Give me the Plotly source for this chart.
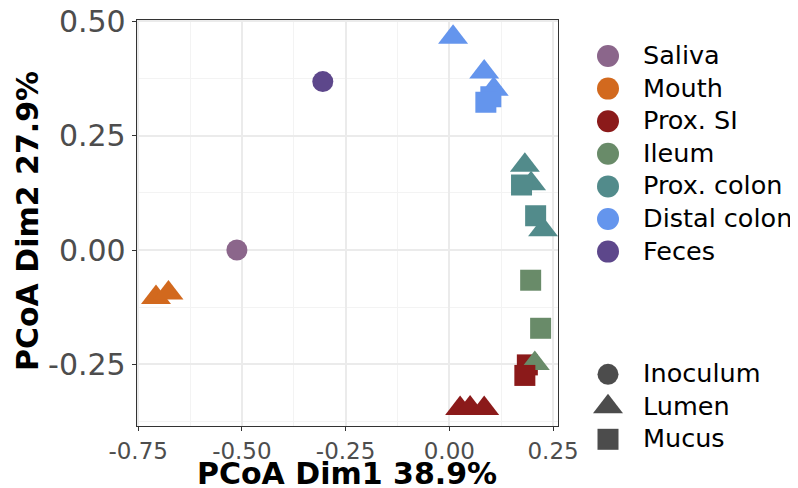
import plotly.graph_objects as go

# ---- categories / styles ----
site_levels = ["Saliva", "Mouth", "Prox. SI", "Ileum", "Prox. colon", "Distal colon", "Feces"]
site_colors = ["#8B668B", "#D2691E", "#8B1A1A", "#698B69", "#528B8B", "#6495ED", "#5D478B"]
type_levels = ["Inoculum", "Lumen", "Mucus"]
type_symbols = ["circle", "triangle-up", "square"]
type_sizes = [21, 26, 21]

# ---- data ----
sample_site = ["Saliva", "Feces", "Mouth", "Mouth",
               "Distal colon", "Distal colon", "Distal colon", "Distal colon", "Distal colon",
               "Prox. colon", "Prox. colon", "Prox. colon", "Prox. colon", "Prox. colon",
               "Ileum", "Ileum", "Prox. SI", "Ileum", "Prox. SI",
               "Prox. SI", "Prox. SI", "Prox. SI"]
sample_type = ["Inoculum", "Inoculum", "Lumen", "Lumen",
               "Lumen", "Lumen", "Lumen", "Mucus", "Mucus",
               "Lumen", "Lumen", "Lumen", "Mucus", "Mucus",
               "Mucus", "Mucus", "Mucus", "Lumen", "Mucus",
               "Lumen", "Lumen", "Lumen"]
dim1 = [-0.512, -0.305, -0.707, -0.677,
        0.009, 0.084, 0.107, 0.100, 0.088,
        0.182, 0.197, 0.226, 0.174, 0.208,
        0.196, 0.220, 0.188, 0.206, 0.182,
        0.026, 0.050, 0.084]
dim2 = [0.000, 0.368, -0.104, -0.094,
        0.465, 0.389, 0.351, 0.335, 0.323,
        0.185, 0.145, 0.044, 0.142, 0.075,
        -0.066, -0.171, -0.251, -0.248, -0.274,
        -0.346, -0.345, -0.346]

x_ticks = [-0.75, -0.50, -0.25, 0.00, 0.25]
y_ticks = [-0.25, 0.00, 0.25, 0.50]
x_title = "PCoA Dim1 38.9%"
y_title = "PCoA Dim2 27.9%"

col_map = dict(zip(site_levels, site_colors))
sym_map = dict(zip(type_levels, type_symbols))
size_map = dict(zip(type_levels, type_sizes))

# page body has an 8px margin: figure is drawn 8px in from top/left
OFF = 8
W, H = 798 - OFF, 488 - OFF
FONT = "DejaVu Sans"


def px(v):
    return v - OFF


px_left, px_right, px_top, px_bottom = px(136.7), px(558.0), px(20.0), px(426.0)

fig = go.Figure()
fig.add_trace(go.Scatter(
    x=dim1, y=dim2, mode="markers", showlegend=False, hoverinfo="skip",
    marker=dict(color=[col_map[s] for s in sample_site],
                symbol=[sym_map[t] for t in sample_type],
                size=[size_map[t] for t in sample_type],
                line=dict(width=0), opacity=1),
    xaxis="x", yaxis="y"))

# ---- custom legend (in a hidden pixel-coordinate axis) ----
leg_x = px(608)
leg_y0, leg_dy = px(56), 32.6
leg2_y0, leg2_dy = px(374.3), 32.5
site_leg_y = [leg_y0 + i * leg_dy for i in range(len(site_levels))]
type_leg_y = [leg2_y0 + i * leg2_dy for i in range(len(type_levels))]
fig.add_trace(go.Scatter(
    x=[leg_x] * len(site_levels), y=site_leg_y, mode="markers",
    marker=dict(color=site_colors, symbol="circle", size=22, line=dict(width=0)),
    showlegend=False, hoverinfo="skip", xaxis="x2", yaxis="y2"))
fig.add_trace(go.Scatter(
    x=[leg_x] * len(type_levels), y=type_leg_y, mode="markers",
    marker=dict(color="black", symbol=type_symbols, size=type_sizes, line=dict(width=0)),
    showlegend=False, hoverinfo="skip", xaxis="x2", yaxis="y2"))
for lab, yy in list(zip(site_levels, site_leg_y)) + list(zip(type_levels, type_leg_y)):
    fig.add_annotation(x=px(641), y=yy - 1, xref="x2", yref="y2", text=lab, showarrow=False,
                       xanchor="left", yanchor="middle",
                       font=dict(family=FONT, size=25.5, color="black"))

# axis titles
fig.add_annotation(x=(px_left + px_right) / 2 / W, y=1 - px(473) / H, xref="paper", yref="paper",
                   text=x_title, showarrow=False, xanchor="center", yanchor="middle",
                   font=dict(family=FONT, size=30, color="black", weight="bold"))
fig.add_annotation(x=px(27) / W, y=1 - px(221) / H, xref="paper", yref="paper",
                   text=y_title, showarrow=False, xanchor="center", yanchor="middle",
                   textangle=-90,
                   font=dict(family=FONT, size=30, color="black", weight="bold"))

axis_common = dict(showline=True, mirror=True, linecolor="#333333", linewidth=1,
                   ticks="outside", ticklen=4, tickcolor="#333333", tickwidth=1,
                   showgrid=True, gridcolor="#EBEBEB", gridwidth=1.5,
                   zeroline=False, automargin=False, ticklabeloverflow="allow")

fig.update_layout(
    width=W, height=H,
    margin=dict(l=0, r=0, t=0, b=0),
    paper_bgcolor="white", plot_bgcolor="white",
    xaxis=dict(domain=[px_left / W, px_right / W], range=[-0.7535, 0.2619],
               tickvals=x_ticks, ticktext=[f"{v:.2f}" for v in x_ticks],
               tickfont=dict(family=FONT, size=23, color="#4D4D4D"),
               minor=dict(showgrid=True, gridcolor="#F3F3F3", gridwidth=1, dtick=0.125, tick0=0.125),
               **axis_common),
    yaxis=dict(domain=[1 - px_bottom / H, 1 - px_top / H], range=[-0.3845, 0.5025],
               tickvals=y_ticks, ticktext=[f"{v:.2f}" for v in y_ticks],
               tickfont=dict(family=FONT, size=30, color="#4D4D4D"),
               minor=dict(showgrid=True, gridcolor="#F3F3F3", gridwidth=1, dtick=0.125, tick0=0.125),
               **axis_common),
    xaxis2=dict(domain=[px_right / W, 1], range=[px_right, W], visible=False, fixedrange=True),
    yaxis2=dict(domain=[0, 1], range=[H, 0], visible=False, fixedrange=True),
)

fig.write_html("out.html")
